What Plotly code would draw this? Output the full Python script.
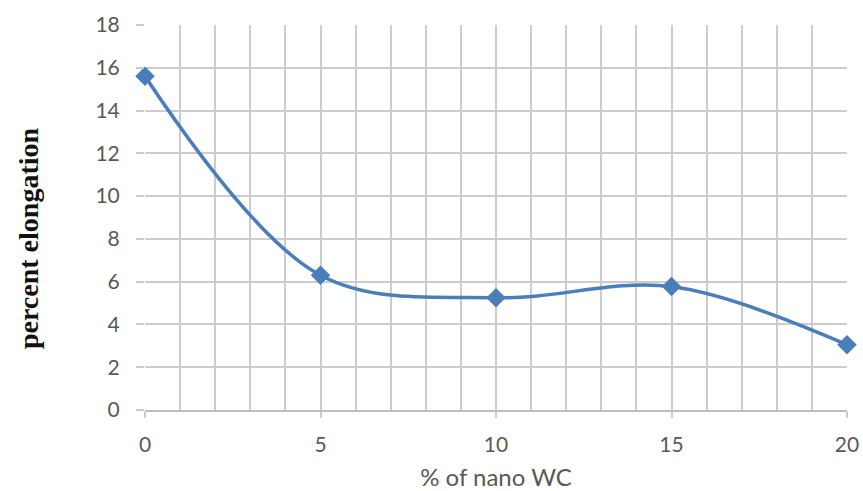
import plotly.graph_objects as go

wc_percent = [0, 5, 10, 15, 20]
elongation = [15.6, 6.3, 5.25, 5.77, 3.05]
x_ticks = [0, 5, 10, 15, 20]
y_ticks = [0, 2, 4, 6, 8, 10, 12, 14, 16, 18]

line_color = "#4a7ebb"
grid_color = "#cccccc"
text_color = "#595959"

fig = go.Figure()
fig.add_trace(go.Scatter(
    x=wc_percent, y=elongation, mode="lines+markers",
    line=dict(color=line_color, width=3.5, shape="spline", smoothing=1.0),
    marker=dict(symbol="diamond", size=15, color=line_color),
    showlegend=False, cliponaxis=False,
))

fig.update_layout(
    width=863, height=491,
    margin=dict(l=145, r=16, t=25, b=81, autoexpand=False),
    plot_bgcolor="white", paper_bgcolor="white",
    font=dict(family="Lato, Open Sans, sans-serif", size=21, color=text_color),
    annotations=[dict(
        text="<b>percent elongation</b>", textangle=-90,
        xref="paper", yref="paper", x=-0.165, y=0.447,
        xanchor="center", yanchor="middle", showarrow=False,
        font=dict(family="Liberation Serif, Times New Roman, serif", size=28, color="#111111"),
    )],
)
fig.update_xaxes(
    range=[0, 20], tickvals=x_ticks, showgrid=True, gridcolor=grid_color, gridwidth=1.5,
    minor=dict(dtick=1, showgrid=True, gridcolor=grid_color, gridwidth=1.5),
    ticks="outside", ticklen=6, tickcolor=grid_color, tickwidth=1.5,
    ticklabelstandoff=9, automargin=False,
    showline=True, linecolor="#bfbfbf", linewidth=1.5, zeroline=False,
    title=dict(text="% of nano WC", font=dict(size=24, color=text_color), standoff=24),
)
fig.update_yaxes(
    range=[0, 18], tickvals=y_ticks, showgrid=True, gridcolor=grid_color, gridwidth=1.5,
    ticks="outside", ticklen=8, tickcolor=grid_color, tickwidth=1.5,
    ticklabelstandoff=12, zeroline=False, showline=False, automargin=False,
)

fig.write_html("out.html", config={"displayModeBar": False},
               post_script="document.body.style.margin='0';")
